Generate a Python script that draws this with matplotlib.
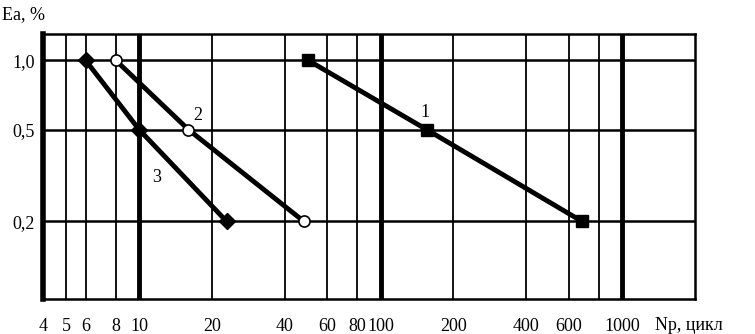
import matplotlib
matplotlib.use("Agg")
import matplotlib.pyplot as plt

# data
np_1 = [50, 155, 680]
ea_1 = [1.0, 0.5, 0.2]

np_2 = [8, 16, 48]
ea_2 = [1.0, 0.5, 0.2]

np_3 = [6, 10, 23]
ea_3 = [1.0, 0.5, 0.2]

x_ticks = [4, 5, 6, 8, 10, 20, 40, 60, 80, 100, 200, 400, 600, 1000]
x_thin_grid = [5, 6, 8, 20, 40, 60, 80, 200, 400, 600, 800]
x_thick_grid = [10, 100, 1000]
y_ticks = [0.2, 0.5, 1.0]
y_tick_labels = ['0,2', '0,5', '1,0']

plt.rcParams['font.family'] = ['Liberation Serif', 'DejaVu Serif']

fig = plt.figure(figsize=(7.55, 3.34), dpi=100)
ax = fig.add_axes([43 / 755, 1 - 299 / 334, (695 - 43) / 755, (299 - 34) / 334])
ax.set_xscale('log')
ax.set_yscale('log')
ax.set_xlim(4, 2000)
ax.set_ylim(0.092, 1.3)

# grid lines
for x in x_thin_grid:
    ax.axvline(x, color='black', lw=1.3, zorder=1)
for x in x_thick_grid:
    ax.axvline(x, color='black', lw=3.5, zorder=1)
for y in y_ticks:
    ax.axhline(y, color='black', lw=1.8, zorder=1)

# curves
ax.plot(np_1, ea_1, color='black', lw=3.5, marker='s', ms=9,
        mfc='black', mec='black', zorder=3)
ax.plot(np_2, ea_2, color='black', lw=3.5, marker='o', ms=8,
        mfc='white', mec='black', mew=1.2, zorder=3)
ax.plot(np_3, ea_3, color='black', lw=3.5, marker='D', ms=8,
        mfc='black', mec='black', zorder=3)

ax.text(152, 0.545, '1', fontsize=13, ha='center', va='bottom')
ax.text(17.5, 0.53, '2', fontsize=13, ha='center', va='bottom')
ax.text(11.8, 0.31, '3', fontsize=13, ha='center', va='center')

for side in ['top', 'right', 'bottom']:
    ax.spines[side].set_linewidth(1.8)
ax.spines['left'].set_linewidth(4)

ax.set_xticks(x_ticks)
ax.set_xticklabels([str(t) for t in x_ticks])
ax.minorticks_off()
ax.set_yticks(y_ticks)
ax.set_yticklabels(y_tick_labels)
ax.tick_params(axis='both', length=0, labelsize=13)
ax.tick_params(axis='x', pad=14)
ax.tick_params(axis='y', pad=6)

fig.text(0.003, 1 - 15 / 334, 'Ea, %', fontsize=13, ha='left', va='center')
fig.text(655 / 755, 1 - 325 / 334, 'Np, цикл', fontsize=13, ha='left', va='center')

fig.savefig('out.png', dpi=100)
